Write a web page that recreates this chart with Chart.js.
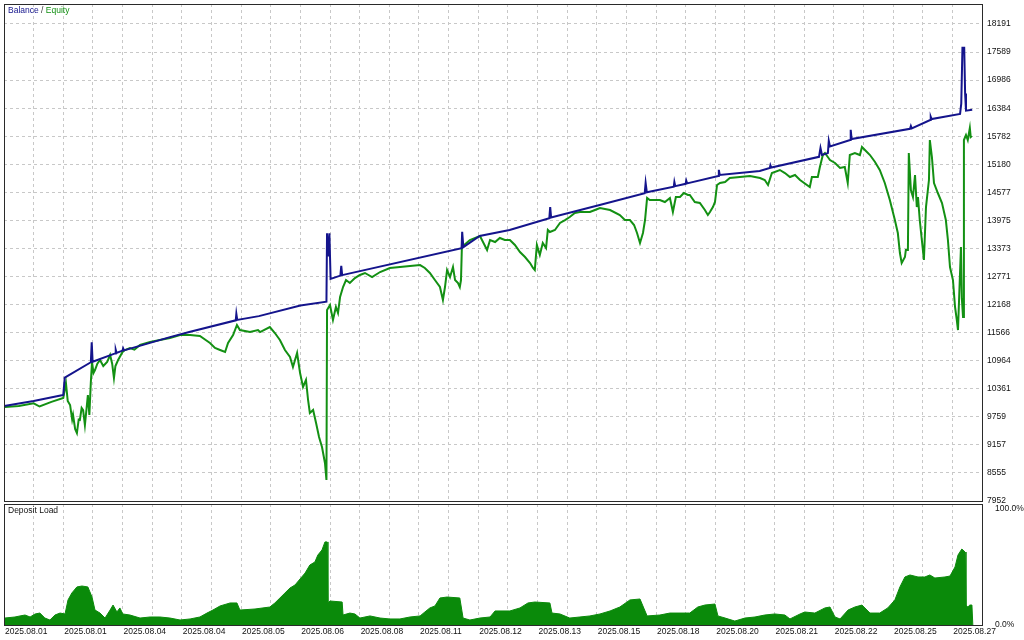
<!DOCTYPE html>
<html>
<head>
<meta charset="utf-8">
<script src="https://cdn.jsdelivr.net/npm/chart.js@4/dist/chart.umd.min.js"></script>
<style>
  html, body { margin: 0; padding: 0; background: #fff; width: 1024px; height: 640px; overflow: hidden; }
  #top { position: absolute; left: 0; top: 0; }
  #bottom { position: absolute; left: 0; top: 503px; }
</style>
</head>
<body>
<canvas id="top" width="1024" height="503"></canvas>
<canvas id="bottom" width="1024" height="137"></canvas>
<script>
// x = deal sequence (0..330), grid line every 10, date label every 20
const dateLabels = ['2025.08.01', '2025.08.01', '2025.08.04', '2025.08.04', '2025.08.05', '2025.08.06',
    '2025.08.08', '2025.08.11', '2025.08.12', '2025.08.13', '2025.08.15', '2025.08.18', '2025.08.20',
    '2025.08.21', '2025.08.22', '2025.08.25', '2025.08.27'];

const priceTicks = [7952, 8555, 9157, 9759, 10361, 10964, 11566, 12168, 12771, 13373, 13975,
    14577, 15180, 15782, 16384, 16986, 17589, 18191];

const balanceX = [0, 10, 19.5, 20, 20.5, 29.3, 29.6, 29.9, 37.5, 37.7, 38, 40, 40.2, 40.5, 56, 62.5,
    78.2, 78.4, 78.7, 86, 100, 108.8, 109, 109.5, 109.8, 110.2, 113.5, 113.8, 114.1, 154.4, 154.6, 155,
    160.5, 170.6, 184, 184.3, 184.6, 201, 216.2, 216.5, 216.9, 226, 226.2, 226.5, 230, 230.2, 230.5,
    241, 241.2, 241.5, 255, 258.4, 258.6, 258.9, 275, 275.5, 276, 278, 278.3, 278.7, 285.5, 285.7, 286,
    305.7, 306, 306.3, 312.5, 312.7, 313, 322.6, 323, 323.4, 324, 324.3, 324.6, 326.7];
const balanceY = [9990, 10100, 10220, 10230, 10600, 10930, 11360, 10940, 11120, 11200, 11130, 11180,
    11230, 11185, 11470, 11580, 11830, 11970, 11840, 11920, 12150, 12230, 13700, 13200, 13700, 12720,
    12790, 13000, 12800, 13380, 13730, 13400, 13640, 13770, 14020, 14260, 14040, 14305, 14560, 14780,
    14580, 14700, 14800, 14710, 14760, 14830, 14770, 14930, 15060, 14950, 15035, 15100, 15160, 15110,
    15340, 15530, 15380, 15420, 15680, 15560, 15700, 15920, 15720, 15940, 16000, 15950, 16130, 16200,
    16150, 16260, 16480, 17680, 17680, 16700, 16330, 16350];

const equityX = [0.3, 5, 10, 12, 16, 20, 20.9, 21.5, 22.3, 23, 23.3, 24, 24.6, 25.2, 25.6, 26.2, 26.7,
    27.3, 27.8, 28.3, 28.8, 29.3, 29.7, 30.2, 30.7, 31.5, 32.4, 33.5, 34.8, 35.8, 36.5, 37.1, 37.6, 38.5,
    40, 40.8, 42.5, 44, 45.9, 49.3, 52.6, 56, 59.4, 62.8, 66.1, 69.5, 71.2, 72.9, 74.6, 75.6, 77.3, 78.6,
    79.6, 83, 85.7, 86.4, 89.7, 91.4, 93.1, 94.8, 96.5, 97.5, 98.9, 99.9, 100.9, 101.9, 102.6, 103.2,
    104.3, 105.3, 106.3, 107.3, 108.3, 108.8, 109, 110, 111, 112, 112.7, 113.4, 114.4, 115.4, 116.7,
    118.4, 120.1, 121.8, 124.2, 126.9, 130.2, 133.6, 137, 140.4, 142, 143.7, 145.4, 147.1, 148.1, 148.8,
    149.5, 150.5, 151.5, 152.2, 153.2, 153.8, 154.2, 154.5, 157.2, 160.6, 163, 164, 165.7, 167.3, 169,
    170.7, 172.4, 174.1, 175.8, 177.5, 178.5, 179.1, 179.8, 180.8, 181.8, 182.9, 183.5, 184.2, 185.9,
    187.6, 189.3, 190.9, 192.6, 194.3, 197.7, 199.4, 201.1, 204.5, 207.8, 209.5, 211.2, 212.6, 213.6,
    214.6, 215.6, 216.3, 217, 217.9, 221.3, 223, 224.7, 225.7, 226.7, 228.1, 229.4, 230.8, 231.4, 233.1,
    234.8, 236.5, 237.5, 238.2, 239.2, 239.9, 240.6, 241.6, 243.3, 244.9, 248.3, 251.7, 253.4, 255.1,
    256.7, 257.8, 259.1, 261.8, 263.5, 265.2, 266.9, 268.6, 271.9, 272.6, 274.6, 275.3, 276.3, 277,
    278.7, 280.4, 282.1, 283.7, 284.7, 285.4, 287.1, 288.8, 289.5, 290.5, 292.2, 293.9, 295.5, 297.2,
    298.9, 300.6, 301.6, 302.3, 302.9, 304, 304.3, 305, 305.3, 306, 306.7, 307.4, 308, 308.4, 309, 309.7,
    310.4, 311.1, 312.1, 312.4, 313.1, 313.8, 315.1, 316.5, 317.8, 318.5, 319.2, 320.2, 320.9, 321.5,
    321.9, 322.5, 322.9, 323.2, 323.6, 323.9, 324.6, 325.2, 325.9, 326.2, 326.6];
const equityY = [9970, 9990, 10050, 9980, 10080, 10163, 10485, 10100, 10013, 9700, 9798, 9500, 9411,
    9700, 9691, 9950, 9905, 9583, 9900, 10227, 9800, 10500, 10935, 10700, 10764, 10900, 10978, 10850,
    10935, 11086, 10900, 10592, 10850, 10978, 11150, 11193, 11236, 11200, 11300, 11365, 11408, 11451,
    11515, 11515, 11493, 11343, 11236, 11193, 11150, 11343, 11515, 11730, 11622, 11579, 11622, 11579,
    11687, 11558, 11408, 11193, 11043, 10828, 11129, 10699, 10399, 10549, 10120, 9841, 9905, 9626,
    9326, 9111, 8768, 8403, 12052, 12159, 11837, 12116, 11987, 12330, 12545, 12695, 12631, 12738,
    12803, 12846, 12760, 12867, 12953, 12974, 12996, 13017, 12953, 12846, 12695, 12545, 12266, 12545,
    12910, 12760, 12974, 12695, 12631, 12545, 12695, 13404, 13554, 13640, 13339, 13554, 13511, 13597,
    13554, 13554, 13447, 13296, 13189, 13060, 12953, 12910, 13447, 13232, 13490, 13382, 13769, 13726,
    13769, 13919, 13983, 14048, 14134, 14155, 14155, 14198, 14241, 14198, 14091, 13983, 13983, 13876,
    13704, 13490, 13704, 13983, 14456, 14413, 14413, 14370, 14456, 14155, 14477, 14477, 14563, 14520,
    14520, 14370, 14348, 14198, 14091, 14155, 14262, 14370, 14735, 14778, 14799, 14885, 14906, 14928,
    14906, 14885, 14842, 14735, 14992, 15057, 14992, 14906, 14949, 14842, 14692, 14906, 14906, 15121,
    15378, 15421, 15271, 15207, 15100, 15121, 14778, 15378, 15421, 15378, 15550, 15486, 15378, 15228,
    15057, 14778, 14413, 13983, 13704, 13275, 13060, 13189, 13339, 13339, 15421, 14627, 14477, 14949,
    14262, 14477, 13983, 13554, 13125, 14262, 14842, 15700, 15336, 14778, 14563, 14348, 13983, 13554,
    12974, 12695, 12116, 11837, 11622, 12695, 13404, 12300, 11900, 15700, 15808, 15700, 15958, 15765,
    15786];

const loadX = [0.3, 3.7, 5.4, 7.1, 8.8, 10.5, 12.1, 13.8, 15.5, 17.2, 18.9, 20.6, 21.6, 22.9, 24.6,
    26.3, 28.3, 29.7, 30.7, 32.4, 34.1, 35.8, 36.8, 38.1, 39.1, 40.1, 42.5, 45.9, 49.3, 52.6, 56, 59.4,
    62.8, 66.1, 68.5, 70.5, 72.9, 76.3, 78.6, 79.6, 84.7, 89.7, 91.4, 93.1, 94.8, 96.5, 98.2, 99.9,
    101.6, 103.2, 104.9, 105.9, 107.3, 108.3, 109, 109.3, 110, 114.1, 114.4, 116.7, 118.4, 120.1, 121.8,
    123.5, 126.9, 130.2, 133.6, 137, 140.4, 142, 143.7, 145.4, 147.1, 149.5, 153.8, 154.9, 157.2, 160.6,
    164, 165.7, 170.7, 174.1, 176.8, 179.1, 184.2, 184.9, 187.6, 190.9, 194.3, 197.7, 201.1, 204.5,
    207.8, 211.2, 214.6, 217, 221.3, 224.7, 228.1, 231.4, 234.1, 236.5, 239.9, 240.9, 243.3, 246.6, 250,
    253.4, 256.7, 260.1, 263.5, 265.2, 268.6, 270.2, 273.6, 277, 278.7, 280.4, 282.1, 284.8, 287.1,
    289.5, 292.2, 295.5, 298.2, 300.6, 302.3, 304, 305.7, 308.4, 310.7, 312.4, 314.1, 317.5, 319.2,
    320.9, 321.9, 323.2, 324.3, 324.6, 325.2, 325.9, 326.6, 326.9];
const loadY = [6.0, 6.9, 7.8, 8.6, 6.9, 9.5, 10.3, 6.0, 4.3, 8.6, 10.3, 9.5, 21.6, 27.6, 32.8, 33.6,
    32.8, 24.1, 12.9, 10.3, 6.0, 12.9, 17.2, 11.2, 14.7, 9.5, 8.6, 6.0, 6.9, 6.9, 6.0, 4.3, 5.2, 6.9,
    10.3, 12.9, 16.4, 19.0, 19.0, 12.9, 13.8, 15.5, 19.0, 23.3, 27.6, 31.9, 34.5, 39.7, 44.8, 51.7,
    54.3, 60.3, 64.7, 71.6, 71.6, 19.0, 20.7, 19.8, 8.6, 10.3, 9.5, 6.0, 6.9, 7.8, 6.0, 5.2, 5.2, 6.9,
    7.8, 11.2, 14.7, 16.4, 23.3, 24.1, 23.3, 6.0, 4.3, 6.0, 6.9, 12.1, 12.1, 14.7, 19.0, 19.8, 19.0,
    10.3, 9.5, 6.0, 6.9, 7.8, 9.5, 12.1, 15.5, 21.6, 22.4, 7.8, 8.6, 10.3, 10.3, 10.3, 15.5, 17.2, 18.1,
    7.8, 6.0, 3.4, 6.0, 6.9, 8.6, 9.5, 8.6, 5.2, 9.5, 11.2, 10.3, 14.7, 15.5, 6.9, 5.2, 12.9, 15.5, 17.2,
    10.3, 10.3, 14.7, 21.6, 32.8, 41.4, 43.1, 41.4, 41.4, 43.1, 40.5, 41.4, 42.2, 50.0, 60.3, 65.5, 62.9,
    17.2, 15.5, 17.2, 17.2, 0];

const font = { family: '"Liberation Sans", Arial, sans-serif', size: 8.5 };
const gridColor = '#c8c8c8';

const frame = {
    id: 'frame',
    afterDraw(chart) {
        const a = chart.chartArea;
        const ctx = chart.ctx;
        ctx.save();
        ctx.strokeStyle = '#2a2a2a';
        ctx.lineWidth = 1;
        ctx.strokeRect(a.left + 0.5, a.top + 0.5, a.right - a.left, a.bottom - a.top);
        ctx.restore();
    }
};

function caption(parts, y) {
    return {
        id: 'caption',
        afterDraw(chart) {
            const ctx = chart.ctx;
            ctx.save();
            ctx.font = '8.5px "Liberation Sans", Arial, sans-serif';
            ctx.textBaseline = 'middle';
            let x = 8;
            parts.forEach(p => {
                ctx.fillStyle = p[1];
                ctx.fillText(p[0], x, y);
                x += ctx.measureText(p[0]).width;
            });
            ctx.restore();
        }
    };
}

function pts(xs, ys) {
    return xs.map((x, i) => ({ x: x, y: ys[i] }));
}

// keep the plot box fixed: no extra room for half-labels
function fitX(h) {
    return s => { s.height = h; s.paddingLeft = 0; s.paddingRight = 0; };
}
function fitY(s) {
    s.width = 42; s.paddingTop = 0; s.paddingBottom = 0;
}

new Chart(document.getElementById('top').getContext('2d'), {
    type: 'line',
    data: {
        datasets: [{
            label: 'Balance',
            data: pts(balanceX, balanceY),
            borderColor: '#14148c',
            borderWidth: 2,
            pointRadius: 0,
            tension: 0
        }, {
            label: 'Equity',
            data: pts(equityX, equityY),
            borderColor: '#139013',
            borderWidth: 2,
            pointRadius: 0,
            tension: 0
        }]
    },
    options: {
        responsive: false,
        animation: false,
        layout: { padding: { left: 4, top: 4, right: 0, bottom: 2 } },
        plugins: { legend: { display: false }, tooltip: { enabled: false } },
        scales: {
            x: {
                type: 'linear', min: 0, max: 330,
                ticks: { display: false, stepSize: 10 },
                grid: { color: gridColor, drawTicks: false },
                border: { display: false, dash: [3, 3] },
                afterFit: fitX(0)
            },
            y: {
                position: 'right', min: 7952, max: 18620,
                afterBuildTicks: s => { s.ticks = priceTicks.map(v => ({ value: v })); },
                ticks: { color: '#111', font: font, padding: 5, crossAlign: 'near', callback: v => String(v) },
                grid: { color: gridColor, drawTicks: false },
                border: { display: false, dash: [3, 3] },
                afterFit: fitY
            }
        }
    },
    plugins: [frame, caption([['Balance', '#14148c'], [' / ', '#333'], ['Equity', '#139013']], 11)]
});

new Chart(document.getElementById('bottom').getContext('2d'), {
    type: 'line',
    data: {
        datasets: [{
            label: 'Deposit Load',
            data: pts(loadX, loadY),
            borderColor: '#0a8a0a',
            backgroundColor: '#0a8a0a',
            borderWidth: 1,
            pointRadius: 0,
            fill: 'origin',
            tension: 0
        }]
    },
    options: {
        responsive: false,
        animation: false,
        layout: { padding: { left: 4, top: 1, right: 0, bottom: 0 } },
        plugins: { legend: { display: false }, tooltip: { enabled: false } },
        scales: {
            x: {
                type: 'linear', min: 0, max: 330,
                ticks: {
                    stepSize: 10, autoSkip: false, maxRotation: 0, align: 'start', padding: 2,
                    labelOffset: 1, color: '#111', font: font,
                    callback: v => (v % 20 === 0 ? dateLabels[v / 20] : '')
                },
                grid: { color: gridColor, drawTicks: false },
                border: { display: false, dash: [3, 3] },
                afterFit: fitX(15)
            },
            y: {
                position: 'right', min: 0, max: 104.3,
                afterBuildTicks: s => { s.ticks = [{ value: 0 }, { value: 100 }]; },
                ticks: { color: '#111', font: font, padding: 5, crossAlign: 'near', callback: v => v.toFixed(1) + '%' },
                grid: { display: false },
                border: { display: false },
                afterFit: fitY
            }
        }
    },
    plugins: [frame, caption([['Deposit Load', '#111']], 8)]
});
</script>
</body>
</html>
